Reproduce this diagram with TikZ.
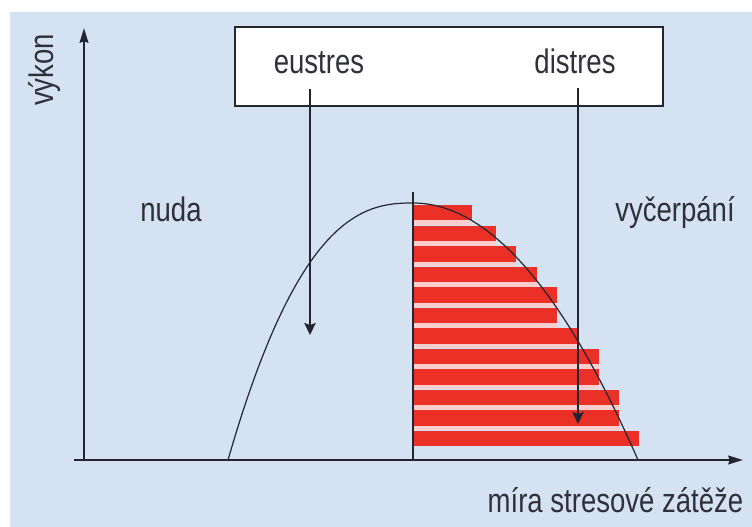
\documentclass[tikz,border=0pt]{standalone}
\usepackage{fontspec}
\setmainfont[FakeStretch=0.81]{Liberation Sans}
\usetikzlibrary{arrows.meta}
\definecolor{bgblue}{RGB}{213,226,242}
\definecolor{barred}{RGB}{235,48,40}
\definecolor{gappink}{RGB}{247,205,205}
\definecolor{ink}{RGB}{35,38,50}
\definecolor{txt}{RGB}{48,48,58}
\tikzset{
  lbl/.style={inner sep=0pt, anchor=base, text=txt, font=\fontsize{25.5}{30}\selectfont},
  axisline/.style={draw=ink, line width=1.7pt, -{Stealth[length=11pt,width=6.5pt,inset=1pt]}},
  downarrow/.style={draw=ink, line width=1.25pt, -{Stealth[length=9pt,width=8.5pt,inset=1.5pt]}},
  curveline/.style={draw=ink, line width=0.9pt},
  framebox/.style={draw=ink, fill=white, line width=1.1pt, inner sep=0pt,
    minimum width=321pt, minimum height=59.25pt},
  barstyle/.style={fill=barred},
  gapstyle/.style={fill=gappink}
}
\begin{document}
\begin{tikzpicture}[x=0.75pt,y=-0.75pt]
\useasboundingbox (0,0) rectangle (752,527);
\fill[bgblue] (10,12) rectangle (752,527);

% top box with labels
\node[framebox] (frame) at (449,66.5) {};
\node[lbl] (eu) at (319,74) {eustres};
\node[lbl] (di) at (575,74) {distres};

% bars
\foreach \i/\r in {0/472,1/496,2/516,3/537,4/557,5/557,6/578,7/599,8/599,9/619,10/619,11/639}{
  \fill[barstyle] (413,{205+20.5*\i}) rectangle (\r,{220.5+20.5*\i});
}
\foreach \i/\r in {0/472,1/496,2/516,3/537,4/557,5/557,6/578,7/599,8/599,9/619,10/619}{
  \fill[gapstyle] (413,{220.5+20.5*\i}) rectangle (\r,{225+20.5*\i});
}

% peak marker line
\coordinate (peaktop) at (413,192);
\coordinate (peakbot) at (413,460);
\draw[draw=ink, line width=0.8pt] (peaktop) -- (peakbot);

% curve
\draw[curveline] plot[domain=1:0,samples=70] ({413-185*\x},{460-257*(1-\x*\x*sqrt(\x))})
  -- plot[domain=0:1,samples=70] ({413+225*\x},{460-257*(1-\x*\x)});

% axes
\coordinate (xstart) at (74,460);
\coordinate (xend) at (743,460);
\coordinate (ystart) at (84,461);
\coordinate (yend) at (84,28);
\draw[axisline] (ystart) -- (yend);
\draw[axisline] (xstart) -- (xend);

% arrows from box
\coordinate (eutop) at (310,89);
\coordinate (eutip) at (310,335);
\coordinate (ditop) at (578,88);
\coordinate (ditip) at (578,424);
\draw[downarrow] (eutop) -- (eutip);
\draw[downarrow] (ditop) -- (ditip);

% labels
\node[lbl] (nuda) at (171,222) {nuda};
\node[lbl] (vyc) at (675,222) {vyčerpání};
\node[lbl] (mira) at (615.5,512) {míra stresové zátěže};
\node[lbl, anchor=center, rotate=90] (vykon) at (45,70) {výkon};
\end{tikzpicture}
\end{document}
